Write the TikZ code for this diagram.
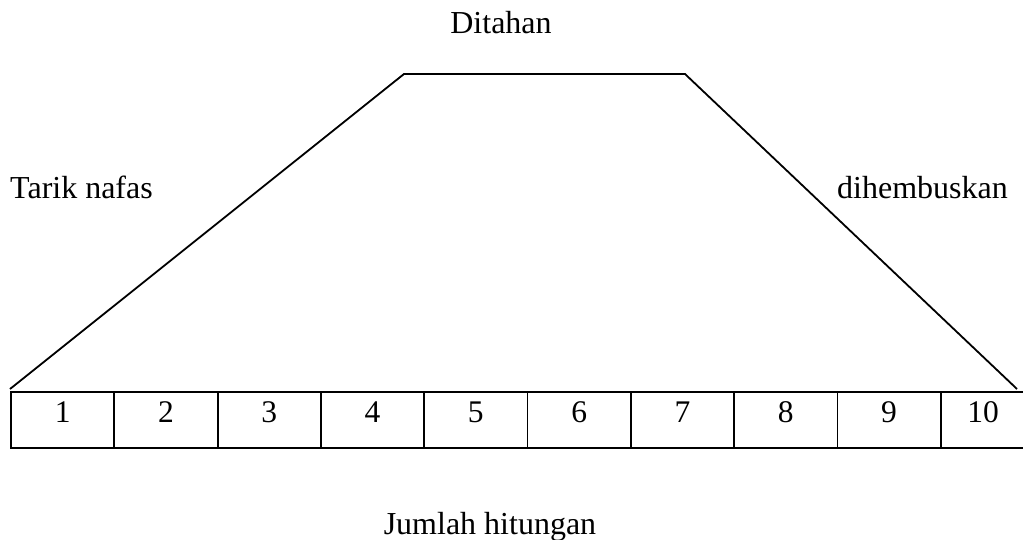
\documentclass[tikz,border=0pt]{standalone}
\usepackage{fontspec}
\setmainfont{Liberation Serif}
\begin{document}
\begin{tikzpicture}[x=1pt,y=-1pt,
  lbl/.style={inner sep=0pt,anchor=base,font=\fontsize{32}{36}\selectfont},
  cell/.style={draw,line width=1.8pt,minimum width=103.3pt,minimum height=56pt,inner sep=0pt,
    text depth=15pt,font=\fontsize{31.5}{36}\selectfont},
  edge/.style={line width=1.8pt,line join=miter}]
\clip (0,0) rectangle (1023,540);
\fill[white] (0,0) rectangle (1023,540);
% cells
\foreach \i in {1,...,9}{
  \node[cell] (c\i) at ({11+103.3*(\i-1)+51.65},420) {\i};
}
\node[cell,minimum width=85pt] (c10) at (983.2,420) {10};
% trapezoid
\coordinate (p0) at (10,389);
\coordinate (p1) at (404,74);
\coordinate (p2) at (685,74);
\coordinate (p3) at (1017,389);
\draw[edge] (p0) -- (p1) -- (p2) -- (p3);
% labels
\node[lbl] (ditahan) at (501,34) {Ditahan};
\node[lbl,anchor=base west] (tarik) at (10,199) {Tarik nafas};
\node[lbl,anchor=base west] (hembus) at (837,199) {dihembuskan};
\node[lbl] (jumlah) at (490,534) {Jumlah hitungan};
\end{tikzpicture}
\end{document}
